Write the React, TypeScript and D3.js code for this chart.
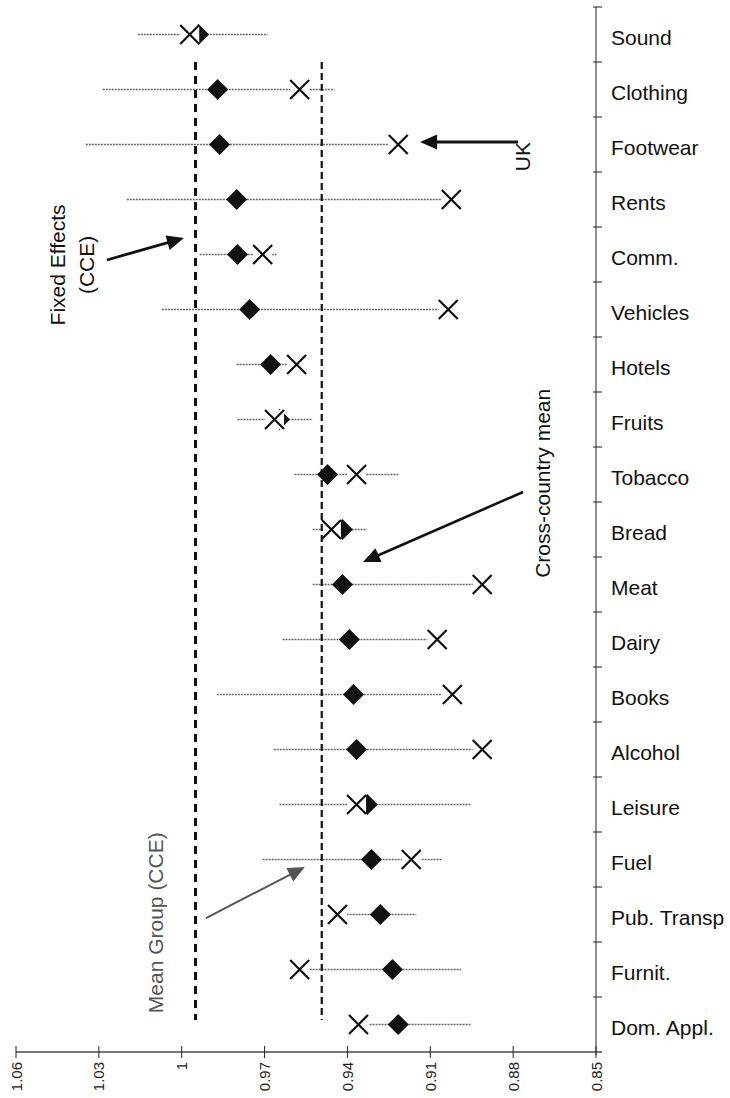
import React from 'react';
import * as d3 from 'd3';

// ---- data ----
const categories = [
  'Sound', 'Clothing', 'Footwear', 'Rents', 'Comm.', 'Vehicles', 'Hotels', 'Fruits', 'Tobacco',
  'Bread', 'Meat', 'Dairy', 'Books', 'Alcohol', 'Leisure', 'Fuel', 'Pub. Transp', 'Furnit.', 'Dom. Appl.',
];
// Mean Group (CCE) estimates (diamonds)
const meanGroup = [
  0.9939, 0.987, 0.9863, 0.9801, 0.9798, 0.9754, 0.9678, 0.9646, 0.9472,
  0.9418, 0.9418, 0.9393, 0.9378, 0.9367, 0.9328, 0.9313, 0.9281, 0.9237, 0.9216,
];
// UK estimates (crosses)
const ukValues = [
  0.9971, 0.9573, 0.9216, 0.9024, 0.9707, 0.9035, 0.9584, 0.9664, 0.9367,
  0.9458, 0.8912, 0.9075, 0.902, 0.8912, 0.9367, 0.9169, 0.9436, 0.9573, 0.936,
];
// range across countries (dotted bars)
const rangeHigh = [
  1.0159, 1.0286, 1.0347, 1.0199, 0.9935, 1.0072, 0.9801, 0.9798, 0.9592,
  0.9526, 0.9526, 0.9635, 0.9873, 0.9667, 0.9646, 0.9707, 0.9425, 0.9537, 0.932,
];
const rangeLow = [
  0.9689, 0.9447, 0.923, 0.9039, 0.9657, 0.905, 0.959, 0.9526, 0.9212,
  0.9328, 0.893, 0.9111, 0.9057, 0.893, 0.8952, 0.9057, 0.9151, 0.8988, 0.8952,
];
const xTicks = [1.06, 1.03, 1, 0.97, 0.94, 0.91, 0.88, 0.85];
const refNames = ['Fixed Effects (CCE)', 'Cross-country mean'];
const refValues = [0.995, 0.9493];
const refBandExtent = [1, 18.42];

// annotations in data units: x value, y in band units
const annoTexts = [
  { lines: ['Fixed Effects', '(CCE)'], xv: [1.0421, 1.0317], yb: 4.69, color: '#111' },
  { lines: ['UK'], xv: [0.8739], yb: 2.72, color: '#111' },
  { lines: ['Cross-country mean'], xv: [0.8667], yb: 8.66, color: '#111' },
  { lines: ['Mean Group (CCE)'], xv: [1.0069], yb: 16.65, color: '#555' },
];
const annoArrows = [
  { from: [1.0271, 4.6], to: [0.9992, 4.2], color: '#111', w: 2.8 },
  { from: [0.8782, 2.4545], to: [0.9137, 2.4545], color: '#111', w: 2.8 },
  { from: [0.8764, 8.818], to: [0.9344, 10.09], color: '#111', w: 2.6 },
  { from: [0.9912, 16.564], to: [0.9554, 15.636], color: '#555', w: 2 },
];

const W = 730;
const H = 1098;
const FONT = '"Liberation Sans", Arial, Helvetica, sans-serif';

export default function App() {
  const x = d3.scaleLinear().domain([1.06, 0.85]).range([16, 596]);
  const y = d3.scaleBand().domain(categories).range([7, 1052]).padding(0);
  const bw = y.bandwidth();
  const y0 = y.range()[0];
  const yb = (k: number) => y0 + k * bw;
  const axisX = x(0.85);
  const axisY = y.range()[1];

  const diamondPath = d3.symbol(d3.symbolSquare, 220)() as string;
  const crossPath = d3.symbol(d3.symbolTimes, 237)() as string;

  const arrow = (x1: number, y1: number, x2: number, y2: number, len: number, hw: number) => {
    const dx = x2 - x1, dy = y2 - y1;
    const L = Math.hypot(dx, dy);
    const ux = dx / L, uy = dy / L;
    const bx = x2 - ux * len, by = y2 - uy * len;
    const px = -uy, py = ux;
    const head = `${x2},${y2} ${bx + px * hw},${by + py * hw} ${bx - px * hw},${by - py * hw}`;
    return { bx: x2 - ux * (len - 2), by: y2 - uy * (len - 2), head };
  };

  return (
    <svg width={W} height={H} style={{ position: 'absolute', left: 0, top: 0, background: '#fff' }}
      fontFamily={FONT}>
      <rect width={W} height={H} fill="#fff" />

      {/* range bars */}
      {categories.map((c, i) => (
        <line key={'r' + c} x1={x(rangeHigh[i])} x2={x(rangeLow[i])}
          y1={y(c)! + bw / 2} y2={y(c)! + bw / 2}
          stroke="#666" strokeWidth={1.3} strokeDasharray="2,1" />
      ))}

      {/* diamonds */}
      {categories.map((c, i) => (
        <path key={'d' + c} d={diamondPath}
          transform={`translate(${x(meanGroup[i])},${y(c)! + bw / 2}) rotate(45)`} fill="#111" />
      ))}

      {/* crosses */}
      {categories.map((c, i) => (
        <g key={'x' + c} transform={`translate(${x(ukValues[i])},${y(c)! + bw / 2})`}>
          <rect x={-9.5} y={-9.5} width={19} height={19} fill="#fff" />
          <path d={crossPath} fill="none" stroke="#111" strokeWidth={2.2} />
        </g>
      ))}

      {/* reference lines */}
      {refValues.map((v, i) => (
        <line key={'ref' + refNames[i]} x1={x(v)} x2={x(v)} y1={yb(refBandExtent[0])} y2={yb(refBandExtent[1])}
          stroke="#111" strokeWidth={i === 0 ? 3 : 2.2} strokeDasharray={i === 0 ? '8,6' : '7,4'} />
      ))}

      {/* category axis */}
      <line x1={axisX} x2={axisX} y1={y0} y2={axisY + 3} stroke="#222" strokeWidth={1} />
      {[...categories.map((c) => y(c)!), axisY].map((t, i) => (
        <line key={'yt' + i} x1={axisX - 3} x2={axisX + 6} y1={t} y2={t} stroke="#222" strokeWidth={1} />
      ))}
      {categories.map((c) => (
        <text key={'yl' + c} x={611} y={y(c)! + bw / 2 + 10.5} fontSize={21} fill="#111">{c}</text>
      ))}

      {/* value axis */}
      <line x1={x(1.06)} x2={axisX + 6} y1={axisY} y2={axisY} stroke="#777" strokeWidth={2} />
      {xTicks.map((t) => (
        <g key={'xt' + t}>
          <line x1={x(t)} x2={x(t)} y1={axisY - 6} y2={axisY + 6} stroke="#222" strokeWidth={1} />
          <text transform={`translate(${x(t) + 5.5},${axisY + 10}) rotate(-90)`} textAnchor="end"
            fontSize={15} fill="#222">{String(t)}</text>
        </g>
      ))}

      {/* annotations */}
      {annoArrows.map((a, i) => {
        const x1 = x(a.from[0]), y1 = yb(a.from[1]), x2 = x(a.to[0]), y2 = yb(a.to[1]);
        const r = arrow(x1, y1, x2, y2, 17, 7.5);
        return (
          <g key={'ar' + i}>
            <line x1={x1} y1={y1} x2={r.bx} y2={r.by} stroke={a.color} strokeWidth={a.w} />
            <polygon points={r.head} fill={a.color} />
          </g>
        );
      })}
      {annoTexts.map((t, i) => (
        <g key={'at' + i}>
          {t.lines.map((ln, j) => (
            <text key={ln} transform={`translate(${x(t.xv[j])},${yb(t.yb)}) rotate(-90)`}
              textAnchor="middle" fontSize={21} fill={t.color}>{ln}</text>
          ))}
        </g>
      ))}
    </svg>
  );
}
